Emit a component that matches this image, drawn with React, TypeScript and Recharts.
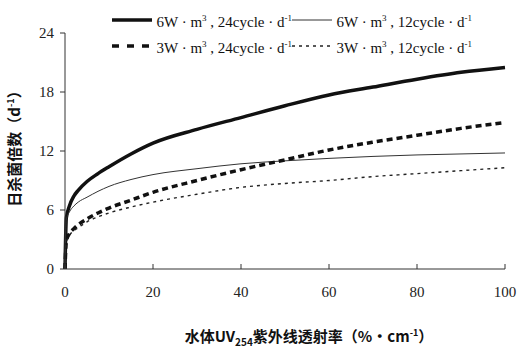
import React from "react"
import { LineChart, Line, XAxis, YAxis } from "recharts"

// UV254 transmittance (%·cm-1)
const transmittance = [0, 0.3, 1, 2, 3, 5, 7.5, 10, 15, 20, 30, 40, 50, 60, 70, 80, 90, 100]

// daily kill multiple (d-1) per lamp setting
const w6c24 = [0, 5.2, 6.4, 7.4, 8.0, 8.9, 9.7, 10.4, 11.7, 12.8, 14.2, 15.4, 16.6, 17.7, 18.5, 19.3, 20.0, 20.5]
const w6c12 = [0, 5.0, 5.8, 6.4, 6.8, 7.3, 7.9, 8.4, 9.1, 9.6, 10.2, 10.7, 11.0, 11.25, 11.45, 11.6, 11.7, 11.8]
const w3c24 = [0, 2.8, 3.6, 4.1, 4.5, 5.1, 5.7, 6.2, 7.0, 7.8, 9.0, 10.1, 11.1, 12.1, 12.9, 13.6, 14.3, 14.9]
const w3c12 = [0, 2.7, 3.4, 3.9, 4.2, 4.8, 5.3, 5.7, 6.3, 6.8, 7.6, 8.3, 8.7, 9.0, 9.4, 9.7, 10.0, 10.3]

const xTicks = [0, 20, 40, 60, 80, 100]
const yTicks = [0, 6, 12, 18, 24]

const series = [
  { key: "a", power: "6W", cycle: "24cycle", width: 3.5, dash: undefined, color: "#111" },
  { key: "b", power: "6W", cycle: "12cycle", width: 1, dash: undefined, color: "#333" },
  { key: "c", power: "3W", cycle: "24cycle", width: 3.5, dash: "6 4", color: "#111" },
  { key: "d", power: "3W", cycle: "12cycle", width: 1.4, dash: "3 4", color: "#222" },
]

const data = transmittance.map((x, i) => ({
  x,
  a: w6c24[i],
  b: w6c12[i],
  c: w3c24[i],
  d: w3c12[i],
}))

const serif = "'Liberation Serif', 'Times New Roman', serif"
const cjk = "'Noto Sans CJK SC', sans-serif"

function XTick(props: any) {
  const { x, y, payload } = props
  return (
    <g>
      <line x1={x} x2={x} y1={y} y2={y - 5} stroke="#333" />
      <text x={x} y={y + 28} textAnchor="middle" fontSize={15} fontFamily={serif} fill="#222">
        {payload.value}
      </text>
    </g>
  )
}

function LegendItem({ s }: { s: (typeof series)[number] }) {
  return (
    <div style={{ display: "flex", alignItems: "center", width: 180 }}>
      <svg width={45} height={10}>
        <line
          x1={0}
          x2={40}
          y1={5}
          y2={5}
          stroke={s.color}
          strokeWidth={s.width === 1 ? 1 : s.width}
          strokeDasharray={s.key === "c" ? "7 8" : s.dash}
        />
      </svg>
      <span style={{ fontFamily: serif, fontSize: 15, color: "#111", whiteSpace: "nowrap" }}>
        {s.power} · m<sup style={{ fontSize: 9 }}>3</sup> , {s.cycle} · d<sup style={{ fontSize: 9 }}>-1</sup>
      </span>
    </div>
  )
}

export default function App() {
  return (
    <div style={{ position: "relative", width: 530, height: 355, background: "#fff" }}>
      <style>{"body{margin:0}"}</style>
      <LineChart width={530} height={355} data={data} margin={{ top: 33, right: 25, bottom: 56, left: 0 }}>
        <XAxis
          dataKey="x"
          type="number"
          domain={[0, 100]}
          ticks={xTicks}
          tickSize={0}
          tickMargin={0}
          height={30}
          stroke="#333"
          tick={<XTick />}
        />
        <YAxis
          type="number"
          domain={[0, 24]}
          ticks={yTicks}
          width={65}
          tickSize={5}
          tickMargin={6}
          stroke="#333"
          tick={{ fontSize: 15, fontFamily: serif, fill: "#222" }}
        />
        {series.map((s) => (
          <Line
            key={s.key}
            dataKey={s.key}
            type="monotone"
            stroke={s.color}
            strokeWidth={s.width}
            strokeDasharray={s.dash}
            dot={false}
            isAnimationActive={false}
          />
        ))}
      </LineChart>

      <div style={{ position: "absolute", left: 112, top: 8, display: "grid", gridTemplateColumns: "180px 180px", rowGap: 2, lineHeight: "20px" }}>
        <LegendItem s={series[0]} />
        <LegendItem s={series[1]} />
        <LegendItem s={series[2]} />
        <LegendItem s={series[3]} />
      </div>

      <div
        style={{
          position: "absolute",
          left: 0,
          width: 530,
          top: 325,
          textAlign: "center",
          paddingLeft: 88,
          boxSizing: "border-box",
          fontFamily: cjk,
          fontWeight: "bold",
          fontSize: 15,
          color: "#111",
        }}
      >
        水体UV<sub style={{ fontSize: 10 }}>254</sub>紫外线透射率（%·cm<sup style={{ fontSize: 9 }}>-1</sup>）
      </div>

      <div
        style={{
          position: "absolute",
          left: 13,
          top: 145,
          transform: "translate(-50%, -50%) rotate(-90deg)",
          whiteSpace: "nowrap",
          fontFamily: cjk,
          fontWeight: "bold",
          fontSize: 15,
          color: "#111",
        }}
      >
        日杀菌倍数（d<sup style={{ fontSize: 9 }}>-1</sup>）
      </div>
    </div>
  )
}
